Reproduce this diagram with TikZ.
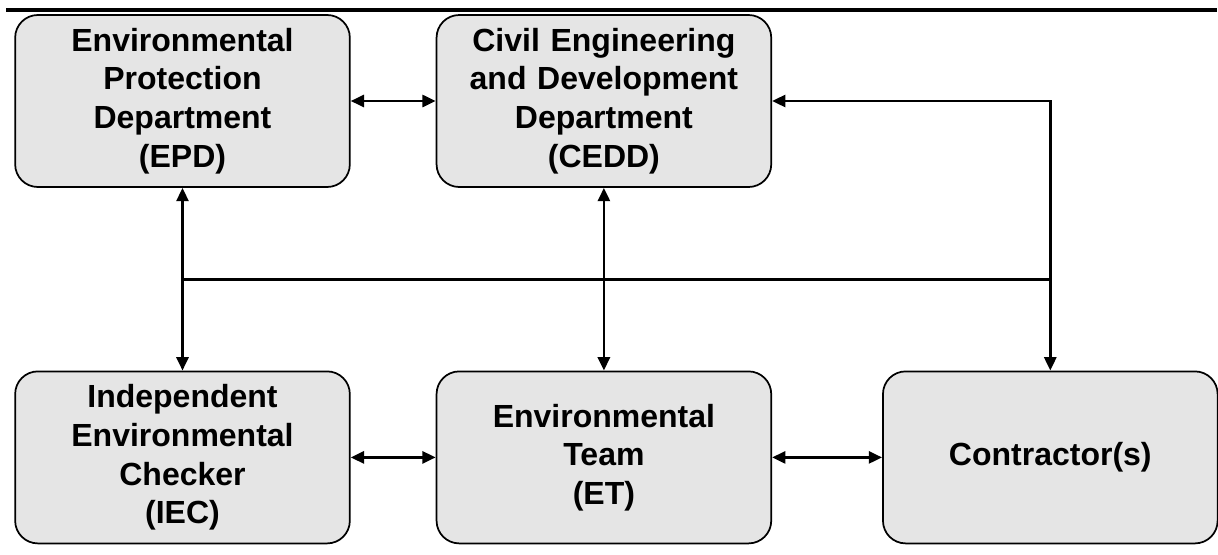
\documentclass[tikz,border=0pt]{standalone}
\usepackage{fontspec}
\setmainfont{Liberation Sans}
\usetikzlibrary{positioning,calc,arrows.meta}
\tikzset{
	unit/.style={
		rectangle, rounded corners=17pt, inner sep=0pt,
		text width=251pt, minimum height=129pt, align=center,
		draw=black, line width=1.3pt, fill=black!10,
		font=\fontsize{24}{29}\selectfont\bfseries
	},
	%
	link/.style={
		line width=2.1pt, {Triangle[length=10pt,width=9pt]}-{Triangle[length=10pt,width=9pt]}
	},
	%
	line/.style={
		line width=2.1pt
	}
}

\begin{document}
\begin{tikzpicture}[x=0.75pt,y=-0.75pt]
\useasboundingbox (0,0) rectangle (1218,554);
\draw[line width=3pt] (6,10) -- (1217,10);
\node(epd)[unit] at (182.5,101) {Environmental\\ Protection\\ Department\\ (EPD)};
\node(cedd)[unit, right=63.75pt of epd] {Civil Engineering\\ and Development\\ Department\\ (CEDD)};
\node(iec)[unit, below=137pt of epd] {Independent\\ Environmental\\ Checker\\ (IEC)};
\node(et)[unit, below=137pt of cedd] {Environmental\\ Team\\ (ET)};
\node(con)[unit, right=82.5pt of et] {Contractor(s)};
\draw[link] (epd) -- (cedd);
\draw[link] (iec) -- (et);
\draw[link] (et) -- (con);
\draw[link] (epd) -- (iec);
\draw[link] (cedd) -- (et);
\draw[link] (cedd.east) -| (con.north);
\coordinate (mid) at ($(epd.south)!0.5!(iec.north)$);
\draw[line] (mid) -- (con.north |- mid);
\end{tikzpicture}
\end{document}
